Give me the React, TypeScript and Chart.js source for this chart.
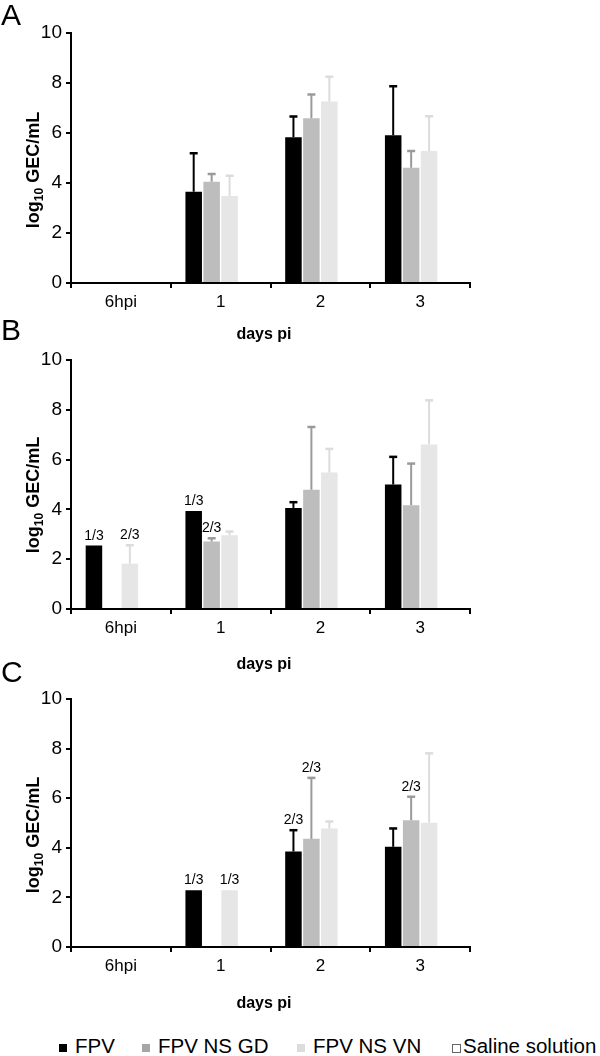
import React, { useEffect, useRef } from 'react';
import { Chart, registerables } from 'chart.js';

Chart.register(...registerables);

const FONT = '"Liberation Sans", Arial, sans-serif';

const categories = ['6hpi', '1', '2', '3'];
const seriesNames = ['FPV', 'FPV NS GD', 'FPV NS VN', 'Saline solution'];
const barColors = ['#000000', '#bdbdbd', '#e6e6e6', '#ffffff'];
const errColors = ['#000000', '#9a9a9a', '#dcdcdc', '#ffffff'];
const legendColors = ['#000000', '#a6a6a6', '#dcdcdc', '#ffffff'];
const yMin = 0;
const yMax = 10;
const yStep = 2;
const yTitleMain = 'log';
const yTitleSub = '10';
const yTitleRest = ' GEC/mL';
const xTitle = 'days pi';

// Panel A
const aFPV = [null, 3.65, 5.83, 5.91];
const aFPVErr = [null, 1.54, 0.83, 1.96];
const aGD = [null, 4.05, 6.59, 4.61];
const aGDErr = [null, 0.31, 0.95, 0.67];
const aVN = [null, 3.48, 7.26, 5.28];
const aVNErr = [null, 0.81, 0.99, 1.39];
const aSaline = [null, null, null, null];
const aFPVn = ['', '', '', ''];
const aGDn = ['', '', '', ''];
const aVNn = ['', '', '', ''];

// Panel B
const bFPV = [2.55, 3.94, 4.06, 5.0];
const bFPVErr = [null, null, 0.23, 1.11];
const bGD = [null, 2.71, 4.79, 4.17];
const bGDErr = [null, 0.13, 2.52, 1.67];
const bVN = [1.82, 2.96, 5.48, 6.61];
const bVNErr = [0.74, 0.15, 0.95, 1.77];
const bSaline = [null, null, null, null];
const bFPVn = ['1/3', '1/3', '', ''];
const bGDn = ['', '2/3', '', ''];
const bVNn = ['2/3', '', '', ''];

// Panel C
const cFPV = [null, 2.29, 3.85, 4.04];
const cFPVErr = [null, null, 0.86, 0.74];
const cGD = [null, null, 4.36, 5.11];
const cGDErr = [null, null, 2.46, 0.95];
const cVN = [null, 2.29, 4.78, 5.01];
const cVNErr = [null, null, 0.28, 2.8];
const cSaline = [null, null, null, null];
const cFPVn = ['', '1/3', '2/3', ''];
const cGDn = ['', '', '2/3', '2/3'];
const cVNn = ['', '1/3', '', ''];

// layout (positions only)
const legendMarkerX = [59, 142, 297, 452];
const legendTextX = [75, 158, 313, 463];

const panels = [
  {
    letter: 'A', top: 0, height: 350, plotTop: 33, plotBottom: 283,
    letterBase: 25, xTitleBase: 339, yTitleCenter: 170,
    values: [aFPV, aGD, aVN, aSaline],
    errs: [aFPVErr, aGDErr, aVNErr, aSaline],
    ns: [aFPVn, aGDn, aVNn, ['', '', '', '']],
  },
  {
    letter: 'B', top: 312, height: 362, plotTop: 360, plotBottom: 609,
    letterBase: 340, xTitleBase: 669, yTitleCenter: 495,
    values: [bFPV, bGD, bVN, bSaline],
    errs: [bFPVErr, bGDErr, bVNErr, bSaline],
    ns: [bFPVn, bGDn, bVNn, ['', '', '', '']],
  },
  {
    letter: 'C', top: 652, height: 362, plotTop: 699, plotBottom: 947,
    letterBase: 682, xTitleBase: 1008, yTitleCenter: 835,
    values: [cFPV, cGD, cVN, cSaline],
    errs: [cFPVErr, cGDErr, cVNErr, cSaline],
    ns: [cFPVn, cGDn, cVNn, ['', '', '', '']],
  },
];

function makeDecor(p: any) {
  return {
    id: 'decor' + p.letter,
    afterDatasetsDraw(chart: any) {
      const ctx = chart.ctx;
      const ys = chart.scales.y;
      const T = p.top;
      chart.data.datasets.forEach((ds: any, i: number) => {
        const meta = chart.getDatasetMeta(i);
        meta.data.forEach((el: any, j: number) => {
          const v = ds.data[j];
          if (v == null) return;
          const e = p.errs[i][j];
          let topY = el.y;
          if (e != null) {
            const yTop = ys.getPixelForValue(v + e);
            topY = yTop;
            ctx.save();
            ctx.strokeStyle = errColors[i];
            ctx.lineWidth = 2;
            ctx.beginPath();
            ctx.moveTo(el.x, el.y);
            ctx.lineTo(el.x, yTop);
            ctx.stroke();
            ctx.lineWidth = 2.5;
            ctx.beginPath();
            ctx.moveTo(el.x - 4, yTop);
            ctx.lineTo(el.x + 4, yTop);
            ctx.stroke();
            ctx.restore();
          }
          const n = p.ns[i][j];
          if (n) {
            ctx.save();
            ctx.fillStyle = '#000';
            ctx.font = `14px ${FONT}`;
            ctx.textAlign = 'center';
            ctx.textBaseline = 'alphabetic';
            ctx.fillText(n, el.x, topY - 6);
            ctx.restore();
          }
        });
      });
      ctx.save();
      ctx.fillStyle = '#000';
      ctx.font = `30px ${FONT}`;
      ctx.textAlign = 'left';
      ctx.textBaseline = 'alphabetic';
      ctx.fillText(p.letter, 1, p.letterBase - T);
      ctx.font = `bold 16px ${FONT}`;
      ctx.textAlign = 'center';
      ctx.fillText(xTitle, 264, p.xTitleBase - T);
      ctx.translate(39, p.yTitleCenter - T);
      ctx.rotate(-Math.PI / 2);
      ctx.textAlign = 'left';
      const big = `bold 18px ${FONT}`;
      const small = `bold 12px ${FONT}`;
      ctx.font = big;
      const w1 = ctx.measureText(yTitleMain).width;
      const w3 = ctx.measureText(yTitleRest).width;
      ctx.font = small;
      const w2 = ctx.measureText(yTitleSub).width;
      let x = -(w1 + w2 + w3) / 2;
      ctx.font = big;
      ctx.fillText(yTitleMain, x, 0);
      x += w1;
      ctx.font = small;
      ctx.fillText(yTitleSub, x, 4);
      x += w2;
      ctx.font = big;
      ctx.fillText(yTitleRest, x, 0);
      ctx.restore();
    },
  };
}

function Panel({ p }: { p: any }) {
  const ref = useRef<HTMLCanvasElement | null>(null);
  useEffect(() => {
    if (!ref.current) return;
    const xAxisH = 30;
    const yAxisW = 40;
    const chart = new Chart(ref.current, {
      type: 'bar',
      data: {
        labels: categories,
        datasets: seriesNames.map((name, i) => ({
          label: name,
          data: p.values[i],
          backgroundColor: barColors[i],
          borderWidth: 0,
          barPercentage: 0.92,
          categoryPercentage: 0.72,
        })),
      },
      options: {
        responsive: false,
        animation: false,
        events: [],
        layout: {
          padding: {
            left: 71 - yAxisW,
            right: 130,
            top: p.plotTop - p.top,
            bottom: p.height - (p.plotBottom - p.top) - xAxisH,
          },
        },
        plugins: {
          legend: { display: false },
          tooltip: { enabled: false },
          title: { display: false },
        },
        scales: {
          x: {
            grid: {
              display: true,
              drawOnChartArea: false,
              drawTicks: true,
              tickLength: 5,
              color: '#000',
              lineWidth: 2,
              offset: true,
            },
            border: { display: true, color: '#000', width: 2 },
            ticks: {
              color: '#000',
              font: { family: FONT, size: 17 },
              padding: 4,
              maxRotation: 0,
              autoSkip: false,
            },
            afterFit: (s: any) => {
              s.height = xAxisH;
            },
          },
          y: {
            min: yMin,
            max: yMax,
            grid: {
              display: true,
              drawOnChartArea: false,
              drawTicks: true,
              tickLength: 5,
              color: '#000',
              lineWidth: 2,
            },
            border: { display: true, color: '#000', width: 2 },
            ticks: {
              stepSize: yStep,
              color: '#000',
              font: { family: FONT, size: 19 },
              padding: 4,
            },
            afterFit: (s: any) => {
              s.width = yAxisW;
            },
          },
        },
      },
      plugins: [makeDecor(p)],
    } as any);
    return () => chart.destroy();
  }, [p]);
  return (
    <canvas
      ref={ref}
      width={600}
      height={p.height}
      style={{ position: 'absolute', left: 0, top: p.top, width: 600, height: p.height }}
    />
  );
}

export default function App() {
  useEffect(() => {
    document.body.style.margin = '0';
    document.body.style.background = '#fff';
  }, []);
  return (
    <div style={{ position: 'relative', width: 600, height: 1056, background: '#fff', overflow: 'hidden' }}>
      {panels.map((p) => (
        <Panel key={p.letter} p={p} />
      ))}
      {seriesNames.map((name, i) => (
        <React.Fragment key={name}>
          <span
            style={{
              position: 'absolute',
              left: legendMarkerX[i],
              top: 1044,
              width: i === 3 ? 7 : 8,
              height: i === 3 ? 7 : 8,
              background: legendColors[i],
              border: i === 3 ? '1px solid #666' : 'none',
            }}
          />
          <span
            style={{
              position: 'absolute',
              left: legendTextX[i],
              top: 1035,
              fontFamily: FONT,
              fontSize: 20.5,
              lineHeight: '21px',
              color: '#000',
              whiteSpace: 'nowrap',
            }}
          >
            {name}
          </span>
        </React.Fragment>
      ))}
    </div>
  );
}
